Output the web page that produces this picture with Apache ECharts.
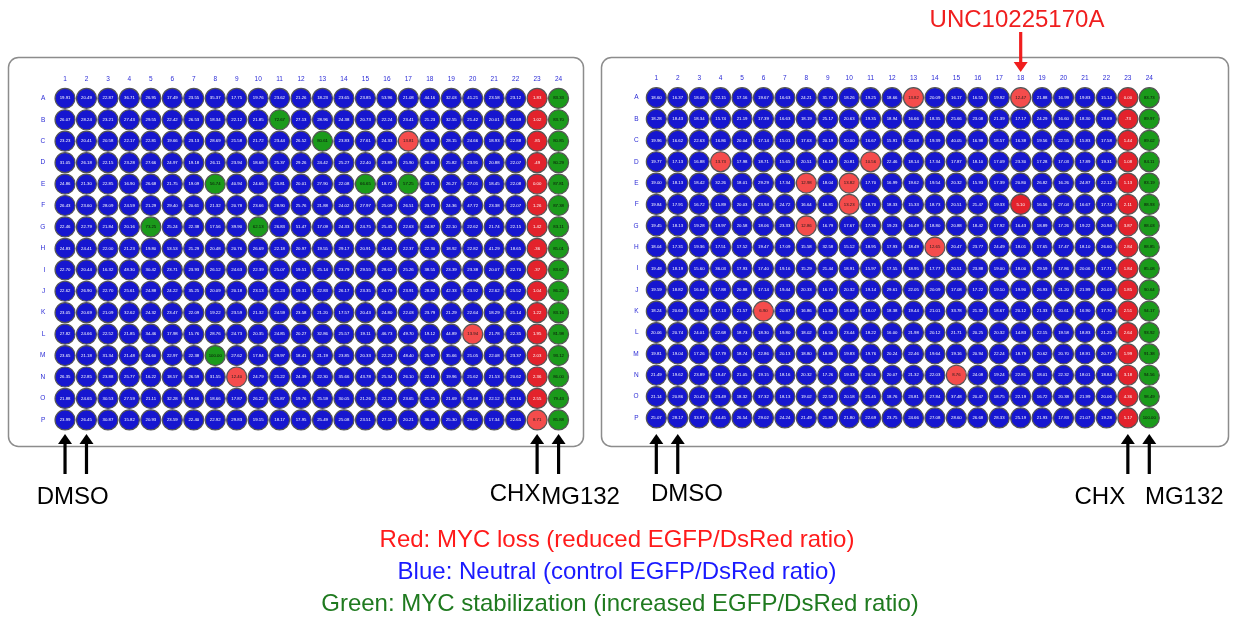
<!DOCTYPE html>
<html><head><meta charset="utf-8">
<script src="https://cdn.jsdelivr.net/npm/echarts@6/dist/echarts.min.js"></script>
<style>html,body{margin:0;padding:0;background:#fff}#c{width:1235px;height:619px}</style>
</head><body><div id="c"></div>
<script>
const columns = Array.from({length:24},(_,i)=>String(i+1));
const rows = ['A','B','C','D','E','F','G','H','I','J','K','L','M','N','O','P'];

const plate1 = [
[19.91,20.49,22.87,36.71,26.95,17.49,23.55,35.37,17.75,19.76,23.62,21.26,18.23,23.65,23.85,53.96,21.08,44.16,32.03,41.21,23.58,23.12,1.83,83.33],
[26.07,28.24,23.21,27.43,29.55,22.42,26.53,18.34,22.12,21.85,72.67,27.13,28.96,24.38,20.73,22.24,23.41,21.23,32.55,21.42,20.01,24.69,1.02,83.70],
[23.23,20.41,20.58,22.17,22.81,19.66,23.13,28.69,21.58,21.72,23.44,26.52,80.61,23.83,27.61,24.33,13.81,53.90,28.15,24.66,18.93,22.88,0.85,80.85],
[31.05,26.18,22.15,23.28,27.66,24.97,19.18,26.11,23.94,18.68,25.37,29.26,24.42,25.27,22.40,23.89,25.90,26.83,25.82,23.91,20.88,22.07,0.49,80.29],
[24.86,21.30,22.85,16.90,26.68,21.75,19.09,56.74,40.94,24.66,25.81,20.01,27.90,22.08,66.65,18.72,57.25,23.71,26.27,27.01,18.45,22.08,0.00,87.81],
[26.43,23.60,28.09,24.59,21.29,29.40,20.61,21.32,20.78,23.66,28.90,25.76,21.88,24.02,27.97,25.09,26.51,23.73,24.36,47.72,23.38,22.07,1.26,87.38],
[22.46,22.79,21.84,20.16,73.25,25.24,22.38,17.56,39.90,62.13,26.83,51.47,17.09,24.33,24.75,25.45,22.63,24.87,22.10,22.62,21.74,22.15,1.42,83.11],
[24.83,24.41,22.00,21.23,19.80,53.53,21.29,20.48,20.76,26.69,22.18,20.97,19.55,29.17,20.91,24.61,22.37,22.30,18.92,22.82,41.29,18.65,0.36,85.01],
[22.70,20.44,16.32,48.30,30.42,23.71,23.93,26.12,24.63,22.39,25.07,19.51,25.14,23.79,29.55,28.62,25.26,38.55,23.39,23.38,20.07,22.70,0.37,83.62],
[22.62,26.90,22.70,25.61,24.88,24.22,35.25,20.09,20.18,23.13,21.23,19.31,22.83,26.17,23.35,24.79,23.91,28.82,42.33,23.92,22.62,25.52,1.04,86.25],
[23.05,20.69,21.09,32.62,24.32,23.47,22.09,19.22,23.59,21.32,24.59,23.58,21.20,17.57,20.43,24.80,22.03,23.79,21.29,22.64,18.29,21.14,1.22,83.16],
[27.82,24.66,22.52,21.85,34.46,17.98,15.76,28.76,24.73,20.35,24.85,20.27,32.86,25.57,19.11,46.73,49.70,19.12,44.89,13.94,21.78,22.35,1.95,81.98],
[23.65,21.18,31.34,21.48,24.60,22.97,22.38,100.00,27.62,17.84,29.97,18.41,21.19,23.85,20.33,22.23,48.40,25.97,35.66,21.05,22.08,23.37,2.03,93.12],
[26.35,22.85,23.88,25.77,16.22,18.57,26.59,31.55,12.40,24.79,21.22,24.39,22.30,35.66,43.78,25.34,26.10,22.16,19.96,21.62,21.53,20.62,2.36,86.00],
[21.88,24.65,30.53,27.59,21.11,32.28,19.66,18.66,17.87,26.22,25.87,19.76,25.59,30.05,21.26,22.23,23.65,21.25,21.69,21.68,22.12,23.16,2.55,79.43],
[23.99,26.45,30.87,15.82,20.93,23.59,22.40,22.92,29.83,19.15,18.17,17.95,25.49,25.08,23.51,27.11,20.21,36.43,25.30,29.01,17.34,22.65,8.71,85.88]
];

const plate2 = [
[18.60,16.37,18.06,22.15,17.16,19.67,16.63,24.21,31.74,18.26,19.25,18.66,13.82,20.09,16.17,16.55,19.92,12.47,21.88,16.99,19.83,15.14,0.00,83.73],
[18.28,18.43,18.34,15.74,21.19,17.39,16.63,18.19,25.17,20.63,19.35,18.94,16.66,18.35,25.66,23.08,21.39,17.17,24.29,16.60,18.30,19.69,0.73,89.97],
[19.96,16.62,22.63,16.86,20.04,17.14,15.01,17.63,20.19,20.00,16.67,15.91,20.68,19.39,40.05,16.98,18.57,16.38,19.56,22.55,15.83,17.58,1.44,89.02],
[19.77,17.13,16.88,13.73,17.98,18.71,15.65,20.51,16.18,20.81,10.56,22.46,18.14,17.34,17.87,18.10,17.09,23.30,17.28,17.03,17.89,19.31,1.08,84.11],
[19.00,18.13,18.42,32.26,18.01,29.29,17.34,12.98,18.04,13.82,17.70,16.99,19.62,19.54,20.32,15.93,17.39,20.80,26.82,16.26,24.87,22.12,1.13,83.19],
[19.84,17.91,16.72,15.89,20.03,23.94,24.72,16.64,16.81,13.23,18.70,18.33,15.33,18.73,20.51,21.47,19.33,5.10,16.56,27.04,16.67,17.74,2.11,88.93],
[19.45,18.13,19.28,19.97,20.58,18.06,23.33,12.86,16.79,17.67,17.36,19.23,16.49,18.80,20.88,18.42,17.92,16.43,18.89,17.26,19.22,20.94,3.87,88.03],
[18.04,17.31,19.36,17.51,17.52,19.47,17.09,15.58,32.58,15.12,18.95,17.93,18.49,12.65,20.47,23.77,24.49,18.01,17.65,17.47,18.10,26.60,2.84,88.85],
[19.48,18.19,15.60,36.03,17.93,17.40,19.16,15.29,21.44,18.91,15.97,17.55,18.95,17.77,20.51,23.88,19.00,18.00,29.59,17.86,20.06,17.71,1.84,85.08],
[19.59,18.82,16.64,17.88,20.88,17.14,19.44,20.33,16.70,20.32,19.14,29.61,22.05,20.09,17.08,17.22,19.10,19.90,26.93,21.20,21.99,20.03,1.85,90.64],
[18.24,20.60,19.60,17.13,21.57,6.90,20.87,16.86,15.80,18.69,18.07,18.38,19.44,21.01,33.78,21.32,18.67,20.12,21.33,20.61,16.90,17.70,2.51,94.17],
[20.06,20.74,24.01,22.68,18.73,18.30,19.80,18.02,16.56,23.44,18.22,16.00,21.98,20.12,21.71,20.25,20.32,14.83,22.15,19.58,18.83,21.25,2.64,93.92],
[19.81,19.04,17.26,17.79,18.74,22.86,20.13,18.80,18.86,19.83,19.76,20.24,22.46,19.64,19.16,20.94,22.24,18.79,20.62,20.70,18.91,20.77,1.99,91.38],
[21.49,19.62,23.89,19.47,21.05,19.15,18.16,20.32,17.26,19.33,20.56,20.07,21.32,22.03,8.76,24.08,19.24,22.81,18.01,22.32,18.01,18.84,3.18,94.56],
[21.14,20.86,20.43,23.49,18.32,37.32,18.13,19.02,22.59,20.18,21.45,18.76,23.81,27.84,37.48,20.47,18.75,22.19,16.72,20.38,21.99,20.06,4.36,98.49],
[25.07,28.17,33.97,44.45,26.54,29.02,24.24,21.49,21.83,21.80,22.69,23.75,24.66,27.08,28.60,26.68,28.33,25.19,21.93,17.83,21.07,19.28,5.17,100.00]
];

const controlLabels1 = ['DMSO','CHX','MG132'];
const hitLabel = 'UNC10225170A';
const legendLines = [
  'Red: MYC loss (reduced EGFP/DsRed ratio)',
  'Blue: Neutral (control EGFP/DsRed ratio)',
  'Green: MYC stabilization (increased EGFP/DsRed ratio)'
];

function classify(v){
  if (v < 6) return {fill:'#e3222c', text:'#ffffff'};
  if (v < 14.5) return {fill:'#f44c4c', text:'#1a1a1a'};
  if (v < 55) return {fill:'#1616d0', text:'#ffffff'};
  return {fill:'#1b9a1b', text:'#0a0a0a'};
}
function fmt(v){
  if (v > 0 && v < 1) return v.toFixed(2).slice(1);
  return v.toFixed(2);
}
function buildData(plate){
  const out = [];
  plate.forEach((row, r) => row.forEach((v, c) => {
    const s = classify(v);
    out.push({value:[c, r, v], itemStyle:{color:s.fill}, label:{color:s.text}});
  }));
  return out;
}

const grids = [
  {left:54.3, top:87.6, width:515, height:343},
  {left:645.6, top:87, width:514.4, height:341.6}
];

function xAt(g, c){ return grids[g].left + (c + 0.5) * grids[g].width / 24; }

const chart = echarts.init(document.getElementById('c'), null, {renderer:'canvas'});

const axisLabelStyle = {color:'#2b2bd6', fontSize:6.5, fontFamily:'Liberation Sans'};

function arrow(x, tipY, endY, color, dir){
  const hh = 10, hw = 7, sw = 3.2;
  let pts, shaft;
  if (dir === 1){
    pts = [[x, tipY],[x-hw, tipY+hh],[x+hw, tipY+hh]];
    shaft = {x:x-sw/2, y:tipY+hh-1, width:sw, height:endY-(tipY+hh-1)};
  } else {
    pts = [[x, tipY],[x-hw, tipY-hh],[x+hw, tipY-hh]];
    shaft = {x:x-sw/2, y:endY, width:sw, height:(tipY-hh+1)-endY};
  }
  return [
    {type:'polygon', shape:{points:pts}, style:{fill:color}, silent:true},
    {type:'rect', shape:shaft, style:{fill:color}, silent:true}
  ];
}

const textFont = 'Liberation Sans';
function txt(x, y, s, color){
  return {type:'text', x:x, y:y, style:{text:s, fill:color, font:'24px '+textFont, textAlign:'center', textVerticalAlign:'middle'}};
}
const graphics = [
  {type:'rect', shape:{x:8.5, y:57.5, width:575, height:389, r:10}, style:{fill:'none', stroke:'#8c8c8c', lineWidth:1.5}, z:-1},
  {type:'rect', shape:{x:601.5, y:57.5, width:627, height:389, r:10}, style:{fill:'none', stroke:'#8c8c8c', lineWidth:1.5}, z:-1},
  ...arrow(xAt(0,0), 434, 474, '#000', 1),
  ...arrow(xAt(0,1), 434, 474, '#000', 1),
  ...arrow(xAt(0,22), 434, 474, '#000', 1),
  ...arrow(xAt(0,23), 434, 474, '#000', 1),
  ...arrow(xAt(1,0), 434, 474, '#000', 1),
  ...arrow(xAt(1,1), 434, 474, '#000', 1),
  ...arrow(xAt(1,22), 434, 474, '#000', 1),
  ...arrow(xAt(1,23), 434, 474, '#000', 1),
  ...arrow(xAt(1,17), 72, 32, '#f01e1e', -1),
  txt(1017, 20, hitLabel, '#f01e1e'),
  txt((xAt(0,0)+xAt(0,1))/2-3, 497, controlLabels1[0], '#000'),
  txt(xAt(0,22)-22, 494, controlLabels1[1], '#000'),
  txt(xAt(0,23)+22, 497, controlLabels1[2], '#000'),
  txt((xAt(1,0)+xAt(1,1))/2+20, 494, controlLabels1[0], '#000'),
  txt(xAt(1,22)-28, 497, controlLabels1[1], '#000'),
  txt(xAt(1,23)+35, 497, controlLabels1[2], '#000'),
  txt(617, 540, legendLines[0], '#ff1a1a'),
  txt(617, 572, legendLines[1], '#1a1aff'),
  txt(620, 604, legendLines[2], '#1f7a1f')
];

function xAxisFor(i){
  return {type:'category', gridIndex:i, data:columns, position:'top', boundaryGap:true,
    axisLine:{show:false}, axisTick:{show:false}, splitLine:{show:false},
    axisLabel:Object.assign({margin:5, interval:0}, axisLabelStyle)};
}
function yAxisFor(i, margin){
  return {type:'category', gridIndex:i, data:rows, inverse:true, boundaryGap:true,
    axisLine:{show:false}, axisTick:{show:false}, splitLine:{show:false},
    axisLabel:Object.assign({margin:margin, interval:0}, axisLabelStyle)};
}
function seriesFor(i, plate){
  return {type:'scatter', xAxisIndex:i, yAxisIndex:i, symbol:'circle', symbolSize:20,
    data:buildData(plate),
    itemStyle:{borderColor:'#555555', borderWidth:1.2, opacity:1},
    label:{show:true, position:'inside', fontSize:4.3, fontFamily:'Liberation Sans',
      formatter:p => fmt(p.value[2])},
    emphasis:{disabled:true}, animation:false};
}

chart.setOption({
  animation:false,
  backgroundColor:'#ffffff',
  grid:grids,
  xAxis:[xAxisFor(0), xAxisFor(1)],
  yAxis:[yAxisFor(0, 9), yAxisFor(1, 7)],
  series:[seriesFor(0, plate1), seriesFor(1, plate2)],
  graphic:graphics
});
</script>
</body></html>
